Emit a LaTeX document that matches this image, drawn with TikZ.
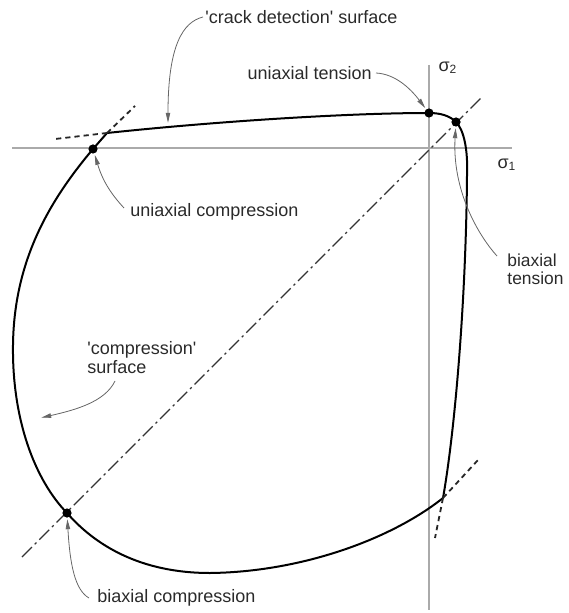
\documentclass[tikz,border=0pt]{standalone}
\usepackage{fontspec}
\setmainfont{Liberation Sans}
\usepackage{tikz}
\usetikzlibrary{arrows.meta, positioning}
\definecolor{ysAxis}{HTML}{AAAAAA}
\definecolor{ysLead}{HTML}{666666}
\definecolor{ysText}{HTML}{2A2A2A}
\newcommand{\sq}{\textquotesingle}

\begin{document}
\begin{tikzpicture}[
  x=0.5pt, y=-0.5pt,
  dot/.style={circle, fill=black, inner sep=0pt, minimum size=4.6pt},
  lbl/.style={font=\fontsize{9}{9.6}\selectfont, text=ysText, inner sep=0pt, align=left},
  leader/.style={draw=ysLead, line width=0.4pt, -{Triangle[length=5pt, width=2.2pt]}, shorten >=0.6pt},
  axis/.style={draw=ysAxis, line width=0.75pt},
  diag/.style={draw=black!80, line width=0.6pt, dash pattern=on 7pt off 2pt on 1.2pt off 2pt},
  tangent/.style={draw=black!85, line width=0.9pt, dash pattern=on 2.6pt off 2pt},
  surf/.style={draw=black, line width=1pt, line join=round},
]
\useasboundingbox (0,0) rectangle (568,613);

% Axes and the sigma1 = sigma2 line
\coordinate (axW) at (12,148);
\coordinate (axE) at (512,148);
\coordinate (axN) at (429,65);
\coordinate (axS) at (429,610);
\draw[axis] (axW) -- (axE);
\draw[axis] (axN) -- (axS);
\coordinate (dgA) at (22,557);
\coordinate (dgB) at (482,97);
\draw[diag] (dgA) -- (dgB);

% Points on the surface
\node[dot] (ucdot) at (93,149) {};
\node[dot] (utdot) at (429,113) {};
\node[dot] (btdot) at (456,122) {};
\node[dot] (bcdot) at (67,513) {};
\coordinate (tl) at (107,133);
\coordinate (br) at (443,498);

% Yield surface
\draw[surf] (tl) .. controls (220,121) and (350,113) .. (utdot.center)
  .. controls (441,113) and (450,116) .. (btdot.center)
  .. controls (464,130) and (468,150) .. (467,175)
  .. controls (466,300) and (455,430) .. (br)
  .. controls (390,540) and (300,572) .. (210,573)
  .. controls (140,573) and (95,545) .. (bcdot.center)
  .. controls (35,480) and (12,420) .. (13,345)
  .. controls (14,260) and (50,200) .. (ucdot.center) -- (tl);

% Tangents at the corners
\coordinate (tlA) at (55,139);
\coordinate (tlB) at (135,106);
\coordinate (brA) at (478,460);
\coordinate (brB) at (435,538);
\draw[tangent] (tl) -- (tlA);
\draw[tangent] (tl) -- (tlB);
\draw[tangent] (br) -- (brA);
\draw[tangent] (br) -- (brB);

% Labels
\node[lbl] (s2) at (448,68) {σ\textsubscript{2}};
\node[lbl] (s1) at (507,165) {σ\textsubscript{1}};
\node[lbl, anchor=west] (crack) at (205,17) {\sq crack detection\sq{} surface};
\node[lbl, anchor=east] (uten) at (372,73) {uniaxial tension};
\node[lbl, anchor=west] (ucomp) at (130,212) {uniaxial compression};
\node[lbl, anchor=north west, font=\fontsize{8.7}{9.4}\selectfont] (bten) at (507,253) {biaxial\\tension};
\node[lbl, anchor=north west] (csurf) at (87,341) {\sq compression\sq\\surface};
\node[lbl, anchor=west] (bcomp) at (97,598) {biaxial compression};

% Leaders
\coordinate (crackpt) at (168,124);
\coordinate (cspt) at (40,418);
\coordinate (csstart) at (115,381);
\coordinate (btstart) at (497,256);
\draw[leader] ([xshift=-1pt]crack.west) .. controls (183,22) and (168,45) .. (crackpt);
\draw[leader] ([xshift=2pt]uten.east) .. controls (395,74) and (410,88) .. (utdot);
\draw[leader] ([xshift=-3pt,yshift=2pt]ucomp.west) .. controls (112,195) and (103,182) .. (ucdot);
\draw[leader] (btstart) .. controls (478,235) and (452,190) .. (btdot);
\draw[leader] (csstart) .. controls (105,402) and (75,410) .. (cspt);
\draw[leader] ([xshift=-4pt]bcomp.west) .. controls (75,590) and (70,565) .. (bcdot);

\end{tikzpicture}
\end{document}
